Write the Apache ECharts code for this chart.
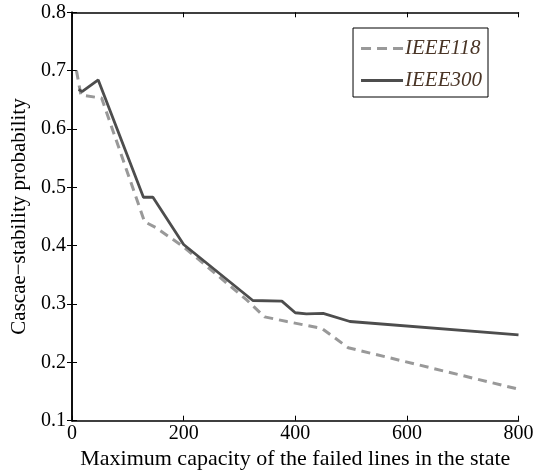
<!DOCTYPE html>
<html>
<head>
<meta charset="utf-8">
<script src="https://cdn.jsdelivr.net/npm/echarts@6/dist/echarts.min.js"></script>
<style>
html,body{margin:0;padding:0;background:#fff;}
#c{width:546px;height:472px;}
</style>
</head>
<body>
<div id="c"></div>
<script>
// x values (capacity) and probabilities
var x118 = [8, 16, 53, 130, 150, 200, 313, 345, 385, 448, 495, 800];
var y118 = [0.700, 0.658, 0.653, 0.441, 0.431, 0.398, 0.307, 0.278, 0.270, 0.258, 0.225, 0.154];
var x300 = [12, 18, 47, 128, 145, 200, 324, 376, 400, 420, 450, 498, 800];
var y300 = [0.668, 0.664, 0.684, 0.483, 0.483, 0.402, 0.306, 0.305, 0.285, 0.283, 0.284, 0.270, 0.247];
var xTicks = [0, 200, 400, 600, 800];
var yTicks = [0.1, 0.2, 0.3, 0.4, 0.5, 0.6, 0.7, 0.8];
var seriesNames = ['IEEE118', 'IEEE300'];
var xTitle = 'Maximum capacity of the failed lines in the state';
var yTitle = 'Cascae\u2212stability probability';

function pairs(xs, ys) { return xs.map(function (x, i) { return [x, ys[i]]; }); }

var FONT = "'Liberation Serif', 'Times New Roman', serif";
var DASH_ICON = 'path://M0,0h10v3h-10z M16,0h10v3h-10z M32,0h10v3h-10z';
var SOLID_ICON = 'path://M0,0h42v3h-42z';
var chart = echarts.init(document.getElementById('c'), null, {renderer: 'canvas'});
var axisLine = {show: true, lineStyle: {color: '#000', width: 1.5}};
var tick = {show: true, inside: true, length: 5, lineStyle: {color: '#000', width: 1}};
chart.setOption({
  animation: false,
  backgroundColor: '#fff',
  grid: {left: 72, right: 27.5, top: 12.3, bottom: 51.3, containLabel: false, outerBoundsMode: 'none'},
  legend: {
    data: [{name: seriesNames[0], icon: DASH_ICON}, {name: seriesNames[1], icon: SOLID_ICON}],
    orient: 'vertical',
    right: 58, top: 28,
    padding: [10, 6, 6, 8],
    itemWidth: 42, itemHeight: 3, itemGap: 11,
    borderColor: '#000', borderWidth: 1, backgroundColor: '#fff',
    textStyle: {fontFamily: FONT, fontStyle: 'italic', fontSize: 21, color: '#4a3526', padding: [0, 0, 0, -3]}
  },
  xAxis: [{
    type: 'value', min: xTicks[0], max: xTicks[xTicks.length - 1], interval: 200,
    axisLine: axisLine, axisTick: tick, splitLine: {show: false},
    axisLabel: {fontFamily: FONT, fontSize: 20, color: '#000', margin: 3},
    name: xTitle, nameLocation: 'middle', nameGap: 18,
    nameTextStyle: {fontFamily: FONT, fontSize: 22, color: '#000'}
  }, {
    type: 'value', position: 'top', min: 0, max: 800, interval: 200,
    axisLine: axisLine, axisTick: tick, axisLabel: {show: false}, splitLine: {show: false}
  }],
  yAxis: [{
    type: 'value', min: yTicks[0], max: yTicks[yTicks.length - 1], interval: 0.1,
    axisLine: axisLine, axisTick: tick, splitLine: {show: false},
    axisLabel: {fontFamily: FONT, fontSize: 20, color: '#000', margin: 6,
      formatter: function (v) { return v.toFixed(1); }},
    name: yTitle, nameLocation: 'middle', nameGap: 31,
    nameTextStyle: {fontFamily: FONT, fontSize: 21, color: '#000'}
  }, {
    type: 'value', position: 'right', min: 0.1, max: 0.8, interval: 0.1,
    axisLine: axisLine, axisTick: tick, axisLabel: {show: false}, splitLine: {show: false}
  }],
  series: [{
    name: seriesNames[0], type: 'line', data: pairs(x118, y118),
    symbol: 'none', color: '#999999',
    lineStyle: {color: '#999999', width: 3, type: [9, 6]}
  }, {
    name: seriesNames[1], type: 'line', data: pairs(x300, y300),
    symbol: 'none', color: '#4d4d4d',
    lineStyle: {color: '#4d4d4d', width: 2.8}
  }]
});
</script>
</body>
</html>
